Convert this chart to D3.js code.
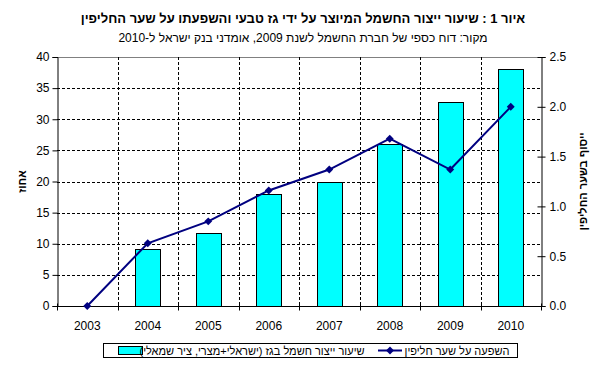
<!DOCTYPE html>
<html>
<head>
<meta charset="utf-8">
<script src="https://cdn.jsdelivr.net/npm/d3@7"></script>
<style>
  body { margin: 0; background: #fff; }
  text { font-family: "Liberation Sans", Arial, sans-serif; }
</style>
</head>
<body>
<div id="vis"></div>
<script>
const years = ['2003', '2004', '2005', '2006', '2007', '2008', '2009', '2010'];
// share of electricity produced from gas, percent (left axis)
const gasShare = [null, 9.1, 11.7, 18.0, 19.9, 26.1, 32.7, 38.0];
// effect on the exchange rate (right axis)
const fxEffect = [0, 0.63, 0.85, 1.16, 1.37, 1.68, 1.37, 2.0];
const leftTicks = [0, 5, 10, 15, 20, 25, 30, 35, 40];
const rightTicks = [0, 0.5, 1.0, 1.5, 2.0, 2.5];

const title = 'איור 1 : שיעור ייצור החשמל המיוצר על ידי גז טבעי והשפעתו על שער החליפין';
const subtitle = 'מקור: דוח כספי של חברת החשמל לשנת 2009, אומדני בנק ישראל ל-2010';
const leftTitle = 'אחוז';
const rightTitle = 'ייסוף בשער החליפין';
const barLabel = 'שיעור ייצור חשמל בגז (ישראלי+מצרי, ציר שמאלי)';
const lineLabel = 'השפעה על שער חליפין';

const W = 601, H = 371;
const plot = { left: 57, right: 541, top: 57, bottom: 306 };

const svg = d3.select('#vis').append('svg')
    .attr('width', W)
    .attr('height', H);

const x = d3.scaleBand().domain(years).range([plot.left, plot.right]).padding(0);
const yL = d3.scaleLinear().domain([0, 40]).range([plot.bottom, plot.top]);
const yR = d3.scaleLinear().domain([0, 2.5]).range([plot.bottom, plot.top]);
const bw = x.bandwidth();

// top border of plot area
svg.append('line')
    .attr('x1', plot.left).attr('x2', plot.right)
    .attr('y1', plot.top + 0.5).attr('y2', plot.top + 0.5)
    .attr('stroke', '#808080');

// horizontal dashed grid
svg.append('g')
    .selectAll('line')
    .data(leftTicks.filter(d => d > 0 && d < 40))
    .enter().append('line')
    .attr('x1', plot.left).attr('x2', plot.right)
    .attr('y1', d => Math.round(yL(d)) + 0.5)
    .attr('y2', d => Math.round(yL(d)) + 0.5)
    .attr('stroke', '#000')
    .attr('stroke-dasharray', '3,2');

// vertical dashed grid at category boundaries
svg.append('g')
    .selectAll('line')
    .data(years.slice(1))
    .enter().append('line')
    .attr('x1', d => Math.round(x(d)) + 0.5)
    .attr('x2', d => Math.round(x(d)) + 0.5)
    .attr('y1', plot.top).attr('y2', plot.bottom)
    .attr('stroke', '#000')
    .attr('stroke-dasharray', '3,2');

// bars
svg.append('g')
    .selectAll('rect')
    .data(years.map((y, i) => ({ year: y, v: gasShare[i] })).filter(d => d.v != null))
    .enter().append('rect')
    .attr('x', d => Math.round(x(d.year) + bw * 0.29) + 0.5)
    .attr('y', d => Math.round(yL(d.v)) + 0.5)
    .attr('width', Math.round(bw * 0.42))
    .attr('height', d => Math.round(plot.bottom - yL(d.v)))
    .attr('fill', '#00ffff')
    .attr('stroke', '#000');

// x axis
const xAxis = svg.append('g')
    .attr('transform', `translate(0,${plot.bottom + 0.5})`);
xAxis.append('line')
    .attr('x1', plot.left).attr('x2', plot.right)
    .attr('stroke', '#000');
xAxis.selectAll('.tk')
    .data(years.concat(['end']))
    .enter().append('line')
    .attr('x1', (d, i) => Math.round(plot.left + i * bw) + 0.5)
    .attr('x2', (d, i) => Math.round(plot.left + i * bw) + 0.5)
    .attr('y1', -3).attr('y2', 4)
    .attr('stroke', '#000');
xAxis.selectAll('text')
    .data(years)
    .enter().append('text')
    .attr('x', d => x(d) + bw / 2)
    .attr('y', 23)
    .attr('text-anchor', 'middle')
    .attr('font-size', 12)
    .text(d => d);

// left axis
const gl = svg.append('g')
    .attr('transform', `translate(${plot.left + 0.5},0)`)
    .call(d3.axisLeft(yL).tickValues(leftTicks).tickSize(5).tickPadding(3));
// right axis
const gr = svg.append('g')
    .attr('transform', `translate(${plot.right + 0.5},0)`)
    .call(d3.axisRight(yR).tickValues(rightTicks).tickFormat(d3.format('.1f')).tickSize(4).tickPadding(4));
gr.selectAll('.tick line').attr('x1', -4);
[gl, gr].forEach(g => {
    g.select('.domain').attr('stroke', '#000');
    g.selectAll('.tick line').attr('stroke', '#000');
    g.selectAll('.tick text')
        .attr('font-size', 12)
        .attr('font-family', '"Liberation Sans", Arial, sans-serif')
        .attr('fill', '#000');
});

// line series
const line = d3.line()
    .x((d, i) => x(years[i]) + bw / 2)
    .y(d => yR(d));
svg.append('path')
    .datum(fxEffect)
    .attr('d', line)
    .attr('fill', 'none')
    .attr('stroke', '#000080')
    .attr('stroke-width', 2);
const diamond = d3.symbol().type(d3.symbolDiamond2).size(40);
svg.append('g')
    .selectAll('path')
    .data(fxEffect)
    .enter().append('path')
    .attr('d', diamond)
    .attr('transform', (d, i) => `translate(${x(years[i]) + bw / 2},${yR(d)})`)
    .attr('fill', '#000080');

// titles
svg.append('text')
    .attr('x', 303).attr('y', 23)
    .attr('direction', 'rtl')
    .attr('text-anchor', 'middle')
    .attr('font-size', 13)
    .attr('font-weight', 'bold')
    .text(title);
svg.append('text')
    .attr('x', 303).attr('y', 42)
    .attr('direction', 'rtl')
    .attr('text-anchor', 'middle')
    .attr('font-size', 12)
    .text(subtitle);

svg.append('text')
    .attr('transform', `translate(26,${(plot.top + plot.bottom) / 2}) rotate(-90)`)
    .attr('direction', 'rtl')
    .attr('text-anchor', 'middle')
    .attr('font-size', 11)
    .attr('font-weight', 'bold')
    .text(leftTitle);
svg.append('text')
    .attr('transform', `translate(587,${(plot.top + plot.bottom) / 2}) rotate(-90)`)
    .attr('direction', 'rtl')
    .attr('text-anchor', 'middle')
    .attr('font-size', 11)
    .attr('font-weight', 'bold')
    .text(rightTitle);

// legend
const lg = svg.append('g');
lg.append('rect')
    .attr('x', 103.5).attr('y', 343.5)
    .attr('width', 414).attr('height', 14)
    .attr('fill', '#fff')
    .attr('stroke', '#000');
lg.append('rect')
    .attr('x', 118.5).attr('y', 346.5)
    .attr('width', 24).attr('height', 8)
    .attr('fill', '#00ffff')
    .attr('stroke', '#000');
lg.append('text')
    .attr('x', 252).attr('y', 355)
    .attr('direction', 'rtl')
    .attr('text-anchor', 'middle')
    .attr('font-size', 11)
    .text(barLabel);
lg.append('line')
    .attr('x1', 378).attr('x2', 402)
    .attr('y1', 350.5).attr('y2', 350.5)
    .attr('stroke', '#000080')
    .attr('stroke-width', 2);
lg.append('path')
    .attr('d', diamond)
    .attr('transform', 'translate(390,350.5)')
    .attr('fill', '#000080');
lg.append('text')
    .attr('x', 457).attr('y', 355)
    .attr('direction', 'rtl')
    .attr('text-anchor', 'middle')
    .attr('font-size', 11)
    .text(lineLabel);
</script>
</body>
</html>
